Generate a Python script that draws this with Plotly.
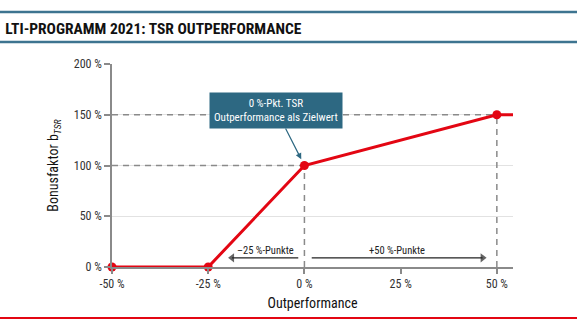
import plotly.graph_objects as go

# Data
x_vals = [-50, -25, 0, 50]
y_vals = [0, 0, 100, 150]
x_ext = 54.2  # line continues to right edge
x_ticks = [-50, -25, 0, 25, 50]
x_tick_labels = ["-50 %", "-25 %", "0 %", "25 %", "50 %"]
y_ticks = [0, 50, 100, 150, 200]
y_tick_labels = ["0 %", "50 %", "100 %", "150 %", "200 %"]
range_left = [-1.6, -18.8]
range_right = [1.9, 46.3]
range_y = 9

RED = "#e30613"
TEAL = "#2d6882"
GRAY = "#8a8a8a"
FONT = "Liberation Sans Narrow, Roboto Condensed, Arial Narrow, sans-serif"

fig = go.Figure()

dash = dict(color=GRAY, width=1.5, dash="6px,5px")
fig.add_trace(go.Scatter(x=[x_vals[0], x_vals[3]], y=[y_vals[3], y_vals[3]], mode="lines",
                         line=dash, hoverinfo="skip", showlegend=False))
fig.add_trace(go.Scatter(x=[x_vals[0], x_vals[2]], y=[y_vals[2], y_vals[2]], mode="lines",
                         line=dash, hoverinfo="skip", showlegend=False))
fig.add_trace(go.Scatter(x=[x_vals[2], x_vals[2]], y=[0, y_vals[2]], mode="lines",
                         line=dash, hoverinfo="skip", showlegend=False))
fig.add_trace(go.Scatter(x=[x_vals[3], x_vals[3]], y=[0, y_vals[3]], mode="lines",
                         line=dash, hoverinfo="skip", showlegend=False))

# Range arrows
for xs, sym in ((range_left, "triangle-left"), (range_right, "triangle-right")):
    fig.add_trace(go.Scatter(x=xs, y=[range_y, range_y], mode="lines+markers",
                             line=dict(color="#222", width=1.3),
                             marker=dict(symbol=sym, size=[0, 8], color="#222", line=dict(width=0)),
                             hoverinfo="skip", showlegend=False))

# Main line
fig.add_trace(go.Scatter(x=x_vals + [x_ext], y=y_vals + [y_vals[-1]], mode="lines",
                         line=dict(color=RED, width=3), cliponaxis=False, showlegend=False))
fig.add_trace(go.Scatter(x=x_vals, y=y_vals, mode="markers",
                         marker=dict(color=RED, size=9), cliponaxis=False, showlegend=False))

annotations = [
    dict(x=0, y=100, xref="x", yref="y", ax=-28, ay=-55,
         text="0 %-Pkt. TSR<br>Outperformance als Zielwert",
         showarrow=True, arrowhead=2, arrowsize=1, arrowwidth=1.2, arrowcolor=TEAL,
         standoff=7, bgcolor=TEAL, borderpad=4,
         font=dict(color="white", size=11, family=FONT)),
    dict(x=-10, y=16, xref="x", yref="y", text="–25 %-Punkte", showarrow=False,
         font=dict(size=10.5, color="#222", family=FONT)),
    dict(x=24, y=16, xref="x", yref="y", text="+50 %-Punkte", showarrow=False,
         font=dict(size=10.5, color="#222", family=FONT)),
]

shapes = [
    dict(type="line", xref="paper", yref="paper", x0=-0.28, x1=1.16, y0=1.256, y1=1.256,
         line=dict(color="#3d7490", width=2.5)),
    dict(type="line", xref="paper", yref="paper", x0=-0.28, x1=1.16, y0=1.108, y1=1.108,
         line=dict(color="#3d7490", width=2.5)),
    dict(type="line", xref="paper", yref="paper", x0=-0.28, x1=1.16, y0=-0.251, y1=-0.251,
         line=dict(color=RED, width=2)),
]

fig.update_layout(
    width=577, height=326,
    margin=dict(l=112, r=64, t=64, b=59),
    paper_bgcolor="white", plot_bgcolor="white",
    font=dict(family=FONT, color="#333", size=12),
    title=dict(text="<b>LTI-PROGRAMM 2021: TSR OUTPERFORMANCE</b>", x=0.009, xanchor="left",
               xref="container", yref="container", y=1 - 29 / 326, yanchor="middle",
               font=dict(size=15.5, color="#111", family=FONT)),
    xaxis=dict(range=[-50, x_ext], tickvals=x_ticks, ticktext=x_tick_labels,
               showgrid=False, zeroline=False, showline=True, linecolor=GRAY, linewidth=1.5,
               ticks="outside", ticklen=5, tickcolor=GRAY, tickwidth=1.5,
               title=dict(text="Outperformance", font=dict(size=14, color="#111"), standoff=8)),
    yaxis=dict(range=[0, 200], tickvals=y_ticks, ticktext=y_tick_labels,
               showgrid=True, gridcolor="#e2e2e2", gridwidth=1, zeroline=False,
               showline=True, linecolor=GRAY, linewidth=1.5,
               ticks="outside", ticklen=6, tickcolor=GRAY, tickwidth=1.5,
               title=dict(text="Bonusfaktor b<sub><i>TSR</i></sub>", font=dict(size=14, color="#111"), standoff=12)),
    annotations=annotations,
    shapes=shapes,
)

fig.write_html("out.html")
